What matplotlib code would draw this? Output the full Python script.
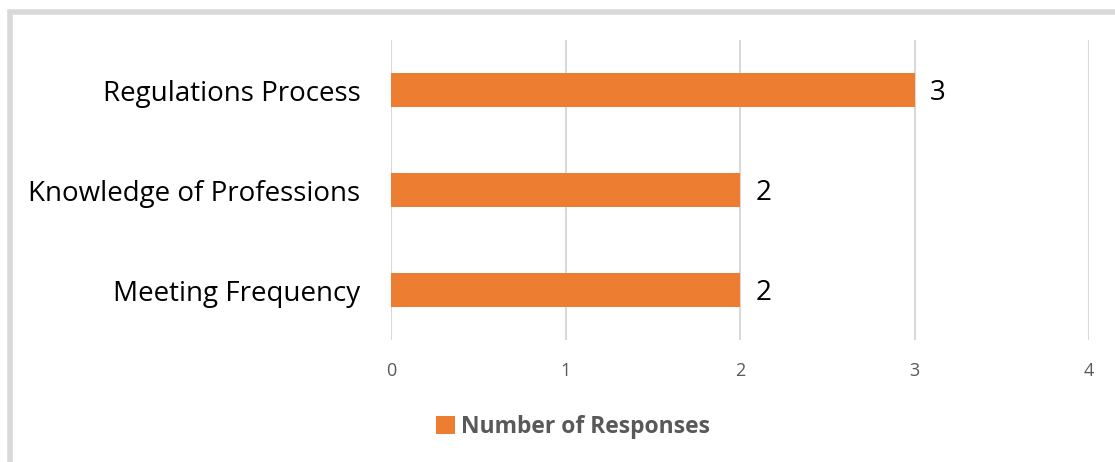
import matplotlib.pyplot as plt
from matplotlib.patches import Rectangle

categories = ["Meeting Frequency", "Knowledge of Professions", "Regulations Process"]
responses = [2, 2, 3]
xticks = [0, 1, 2, 3, 4]

orange = "#ED7D31"
grid_gray = "#D9D9D9"
text_gray = "#595959"

plt.rcParams['font.family'] = ['Open Sans', 'DejaVu Sans']

fig = plt.figure(figsize=(11.15, 4.62), dpi=100)

# outer chart frame
fig.patches.append(Rectangle((10 / 1115, -0.05), 1.2, (462 - 12) / 462 + 0.05,
                             transform=fig.transFigure, fill=False,
                             edgecolor=grid_gray, linewidth=4))

ax = fig.add_axes([391 / 1115, 122 / 462, 698 / 1115, 300 / 462])
bars = ax.barh(range(len(categories)), responses, height=0.34, color=orange,
               label="Number of Responses", zorder=3)

ax.set_xlim(0, 4)
ax.set_ylim(-0.5, 2.5)
ax.set_xticks(xticks)
ax.set_xticklabels([str(t) for t in xticks], fontsize=13, color=text_gray)
ax.set_yticks(range(len(categories)))
ax.set_yticklabels(categories, fontsize=20, color="black")
ax.tick_params(axis='both', length=0)
ax.tick_params(axis='x', pad=16)
ax.tick_params(axis='y', pad=22)
ax.xaxis.grid(True, color=grid_gray, linewidth=1.5, zorder=0)
for s in ax.spines.values():
    s.set_visible(False)

for bar, v in zip(bars, responses):
    ax.text(v + 0.09, bar.get_y() + bar.get_height() / 2, str(v),
            va='center_baseline', ha='left', fontsize=20, color="black")

leg = fig.legend(handles=[bars], labels=["Number of Responses"],
                 loc='center', bbox_to_anchor=(573 / 1115, 1 - 427 / 462),
                 frameon=False, handlelength=0.8, handleheight=0.8,
                 handletextpad=0.25, prop={'size': 16.5, 'weight': 'bold'})
for t in leg.get_texts():
    t.set_color(text_gray)

fig.savefig("out.png", dpi=100)
